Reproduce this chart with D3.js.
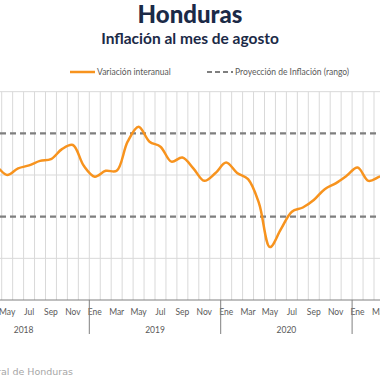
<!DOCTYPE html>
<html>
<head>
<meta charset="utf-8">
<script src="https://cdn.jsdelivr.net/npm/d3@7"></script>
<style>
  html, body { margin: 0; padding: 0; background: #fff; overflow: hidden; }
  svg { display: block; font-family: Lato, "Open Sans", sans-serif; }
</style>
</head>
<body>
<svg id="chart" width="380" height="380"></svg>
<script>
// ---- Data (months from Jan 2018) ----
const months = ["Ene","Feb","Mar","Abr","May","Jun","Jul","Ago","Sep","Oct","Nov","Dic"];
const years = ["2018","2019","2020","2021"];
// Variación interanual (%) — Jan 2018 .. Apr 2021
const inflation = [
  4.45, 4.3, 4.25, 4.2,          // Ene-Abr 2018
  4.0, 4.16, 4.23, 4.34, 4.38, 4.62, 4.72, 4.22,   // May-Dic 2018
  3.96, 4.1, 4.1, 4.8, 5.16, 4.8, 4.68, 4.32, 4.42, 4.16, 3.86, 4.04, // 2019
  4.3, 4.05, 3.9, 3.32, 2.27, 2.7, 3.12, 3.22, 3.4, 3.66, 3.8, 3.98,  // 2020
  4.18, 3.86, 3.96, 4.05          // Ene-Abr 2021
];
const rangeBounds = [3, 5];       // Proyección de Inflación (rango)
const yGrid = [2, 4, 6];
const titleText = "Honduras";
const subtitleText = "Inflación al mes de agosto";
const legendLabels = ["Variación interanual", "Proyección de Inflación (rango)"];
const sourceText = "Fuente: Banco Central de Honduras";

const W = 380;
const svg = d3.select("#chart");
const plotTop = 91.67, plotBottom = 300;
const totalMonths = 48;

const x = d3.scaleLinear().domain([0, 12]).range([-42.1, 89.3]);
const y = d3.scaleLinear().domain([1, 6]).range([plotBottom, plotTop]);
const inView = px => px > -6 && px < W + 6;

// Title
svg.append("text").attr("x", 190).attr("y", 23).attr("text-anchor", "middle")
  .attr("font-size", 24).attr("font-weight", 900).attr("fill", "#1b2a47").text(titleText);
svg.append("text").attr("x", 190).attr("y", 44).attr("text-anchor", "middle")
  .attr("font-size", 15.5).attr("font-weight", 700).attr("fill", "#1b2a47").text(subtitleText);

// Legend
const lg = svg.append("g");
lg.append("line").attr("x1", 70).attr("x2", 95).attr("y1", 72).attr("y2", 72)
  .attr("stroke", "#f7931e").attr("stroke-width", 2.5);
lg.append("text").attr("x", 97).attr("y", 75).attr("font-size", 8.5).attr("fill", "#595959").text(legendLabels[0]);
lg.append("line").attr("x1", 207).attr("x2", 233).attr("y1", 72).attr("y2", 72)
  .attr("stroke", "#7f7f7f").attr("stroke-width", 2).attr("stroke-dasharray", "5,3");
lg.append("text").attr("x", 235).attr("y", 75).attr("font-size", 8.5).attr("fill", "#595959").text(legendLabels[1]);

// Grid
const grid = svg.append("g");
grid.selectAll(".hg").data(yGrid).join("line")
  .attr("x1", 0).attr("x2", W).attr("y1", d => y(d)).attr("y2", d => y(d))
  .attr("stroke", "#d9d9d9").attr("stroke-width", 1);
grid.selectAll(".vg").data(d3.range(0, totalMonths + 1)).join("line")
  .attr("x1", d => x(d)).attr("x2", d => x(d)).attr("y1", plotTop).attr("y2", plotBottom)
  .attr("stroke", "#d9d9d9").attr("stroke-width", 1);

// Range dashed lines
svg.selectAll(".rng").data(rangeBounds).join("line")
  .attr("x1", 0).attr("x2", W).attr("y1", d => y(d)).attr("y2", d => y(d))
  .attr("stroke", "#7f7f7f").attr("stroke-width", 2.2).attr("stroke-dasharray", "6,4");

// Line
const line = d3.line().x((d, i) => x(i + 0.5)).y(d => y(d)).curve(d3.curveCatmullRom.alpha(0.5));
svg.append("path").datum(inflation).attr("d", line)
  .attr("fill", "none").attr("stroke", "#f7931e").attr("stroke-width", 2.5);

// X axis
svg.append("line").attr("x1", 0).attr("x2", W).attr("y1", plotBottom).attr("y2", plotBottom)
  .attr("stroke", "#808080").attr("stroke-width", 1);
const ax = svg.append("g");
ax.selectAll(".mt").data(d3.range(0, totalMonths).filter(m => m % 2 === 0 && inView(x(m + 0.5)))).join("text")
  .attr("x", d => x(d + 0.5)).attr("y", 315).attr("text-anchor", "middle")
  .attr("font-size", 8.5).attr("fill", "#595959").text(d => months[d % 12]);
ax.selectAll(".yt").data(d3.range(0, years.length + 1)).join("line")
  .attr("x1", d => x(d * 12)).attr("x2", d => x(d * 12)).attr("y1", plotBottom).attr("y2", 334)
  .attr("stroke", "#808080").attr("stroke-width", 1);
ax.selectAll(".yl").data(years.filter((d, i) => inView(x(i * 12 + 6)))).join("text")
  .attr("x", d => x(years.indexOf(d) * 12 + 6)).attr("y", 333).attr("text-anchor", "middle")
  .attr("font-size", 8.5).attr("fill", "#595959").text(d => d);

// Source
svg.append("text").attr("x", 73).attr("y", 375).attr("text-anchor", "end")
  .attr("font-family", "'DejaVu Sans', sans-serif")
  .attr("font-size", 9.5).attr("fill", "#a6a6a6").text(sourceText);
</script>
</body>
</html>
